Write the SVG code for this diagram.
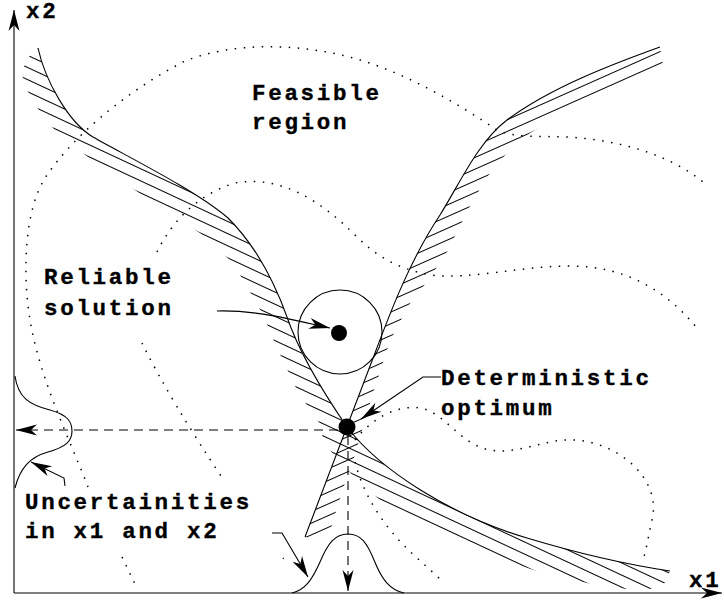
<svg xmlns="http://www.w3.org/2000/svg" width="724" height="601" viewBox="0 0 724 601">
<defs>
<style>
.ln{fill:none;stroke:#000;stroke-width:1.1}
.dot{fill:none;stroke:#000;stroke-width:1.5;stroke-dasharray:1.5 7.5}
.dash{fill:none;stroke:#000;stroke-width:1.1;stroke-dasharray:9 6}
.lbl{font-family:"Liberation Mono","DejaVu Sans Mono",monospace;font-weight:bold;font-size:22.5px;letter-spacing:2.7px;fill:#000;stroke:#000;stroke-width:0.35}
</style>
<marker id="ah" viewBox="-22 -6 24 12" refX="0" refY="0" markerWidth="24" markerHeight="12" markerUnits="userSpaceOnUse" orient="auto">
<path d="M0,0 L-21,-5.5 L-15,0 L-21,5.5 Z" fill="#000"/>
</marker>
<pattern id="hA" patternUnits="userSpaceOnUse" width="40" height="11" patternTransform="rotate(25)">
<line x1="0" y1="5.5" x2="40" y2="5.5" stroke="#000" stroke-width="1"/>
</pattern>
<pattern id="hB" patternUnits="userSpaceOnUse" width="40" height="10.7" patternTransform="rotate(-24)">
<line x1="0" y1="5.3" x2="40" y2="5.3" stroke="#000" stroke-width="1"/>
</pattern>
<clipPath id="cA"><path d="M38,48 C45,80 68,122 93,137 C130,158 195,190 228,218 C252,242 272,275 287,317 C300,355 325,395 347,427 C380,470 450,515 527,538 C580,554 630,565 670,571 L665,583 L645,591 L600,586 L540,572 L480,553 L430,530 L390,508 L362,485 L340,462 L323,442 L321,425 L310,410 L297,390 L278,350 L263,315 L248,288 L232,262 L200,233 L145,197 L88,157 L58,134 L40,112 L27,90 L21,72 L30,55 Z"/></clipPath>
<clipPath id="cB"><path d="M305,537 L375,353 C390,313 410,260 440,215 C460,183 478,142 507,120 C550,88 610,65 660,47 L663,65 L640,76 L600,96 L560,116 L530,133 L500,160 L485,180 L470,206 L458,230 L447,252 L435,270 L423,287 L412,300 L403,316 L394,333 L387,350 L380,372 L374,390 L368,410 L362,430 L355,455 L346,480 L337,508 L330,532 L318,541 Z"/></clipPath>
</defs>
<rect width="724" height="601" fill="#fff"/>

<g id="contours">
<path class="dot" d="M88,487 C70,440 40,380 30,320 C22,270 25,210 45,178 C70,140 120,95 183,62 C230,42 300,42 360,60 C410,75 460,105 497,130 C515,138 540,136 567,137 C620,140 670,155 703,182"/>
<path class="dot" d="M157,252 C170,225 195,195 235,183 C280,175 320,200 355,235 C375,255 395,268 430,275 C470,280 520,266 570,266 C630,266 670,295 697,328"/>
<path class="dot" d="M142,343 Q170,400 225,482"/>
<path class="dot" d="M122,557 L135,584"/>
<path class="dot" d="M355,440 C375,415 400,405 420,408 C445,412 460,445 490,450 C520,455 545,438 575,440 C620,443 662,480 652,520 C648,538 646,552 642,563"/>
<path class="dot" d="M355,462 C362,490 380,525 417,558 C428,568 436,575 443,582"/>
<path class="dot" d="M283,558 L283.7,558.7"/>
</g>

<g id="constraint-g1">
<rect x="0" y="0" width="724" height="601" fill="url(#hA)" clip-path="url(#cA)"/>
<path class="ln" d="M38,48 C45,80 68,122 93,137 C130,158 195,190 228,218 C252,242 272,275 287,317 C300,355 325,395 347,427 C380,470 450,515 527,538 C580,554 630,565 670,571"/>
</g>

<g id="constraint-g2">
<rect x="0" y="0" width="724" height="601" fill="url(#hB)" clip-path="url(#cB)"/>
<path class="ln" d="M305,537 L375,353 C390,313 410,260 440,215 C460,183 478,142 507,120 C550,88 610,65 660,47"/>
</g>

<g id="axes">
<path class="ln" d="M14,593 L14,10" marker-end="url(#ah)"/>
<path class="ln" d="M14,593 L722,593" marker-end="url(#ah)"/>
<text class="lbl" x="26" y="18">x2</text>
<text class="lbl" x="689" y="587">x1</text>
</g>

<g id="reliable-solution">
<circle class="ln" cx="340" cy="332" r="42"/>
<circle cx="339" cy="333" r="8" fill="#000"/>
<text class="lbl" x="44" y="284">Reliable</text>
<text class="lbl" x="44" y="315">solution</text>
</g>

<g id="deterministic-optimum">
<circle cx="347" cy="427" r="8.5" fill="#000"/>
<text class="lbl" x="441" y="385">Deterministic</text>
<text class="lbl" x="441" y="415">optimum</text>
</g>

<g id="feasible-region">
<text class="lbl" x="252" y="100">Feasible</text>
<text class="lbl" x="252" y="129">region</text>
</g>

<g id="uncertainty">
<path class="ln" d="M15,376 C18,398 30,405 50,410 C68,415 72,422 72,431 C72,441 66,447 48,452 C30,457 20,468 15,488"/>
<path class="ln" d="M292,593 C305,590 312,580 320,562 C328,543 335,534 348,534 C361,534 367,543 374,560 C382,580 390,590 404,593"/>
<text class="lbl" x="25" y="509">Uncertainities</text>
<text class="lbl" x="25" y="538">in x1 and x2</text>
</g>

<g id="connectors">
<path class="dash" d="M338,430 L16,430" marker-end="url(#ah)"/>
<path class="dash" d="M348,436 L348,591" marker-end="url(#ah)"/>
<path class="ln" d="M217,311 C255,310 285,318 330,328" marker-end="url(#ah)"/>
<path class="ln" d="M441,377 L423,377 L361,419" marker-end="url(#ah)"/>
<path class="ln" d="M65,486 L64,478 L31,462" marker-end="url(#ah)"/>
<path class="ln" d="M272,533 L282,533 L308,577" marker-end="url(#ah)"/>
</g>
</svg>
